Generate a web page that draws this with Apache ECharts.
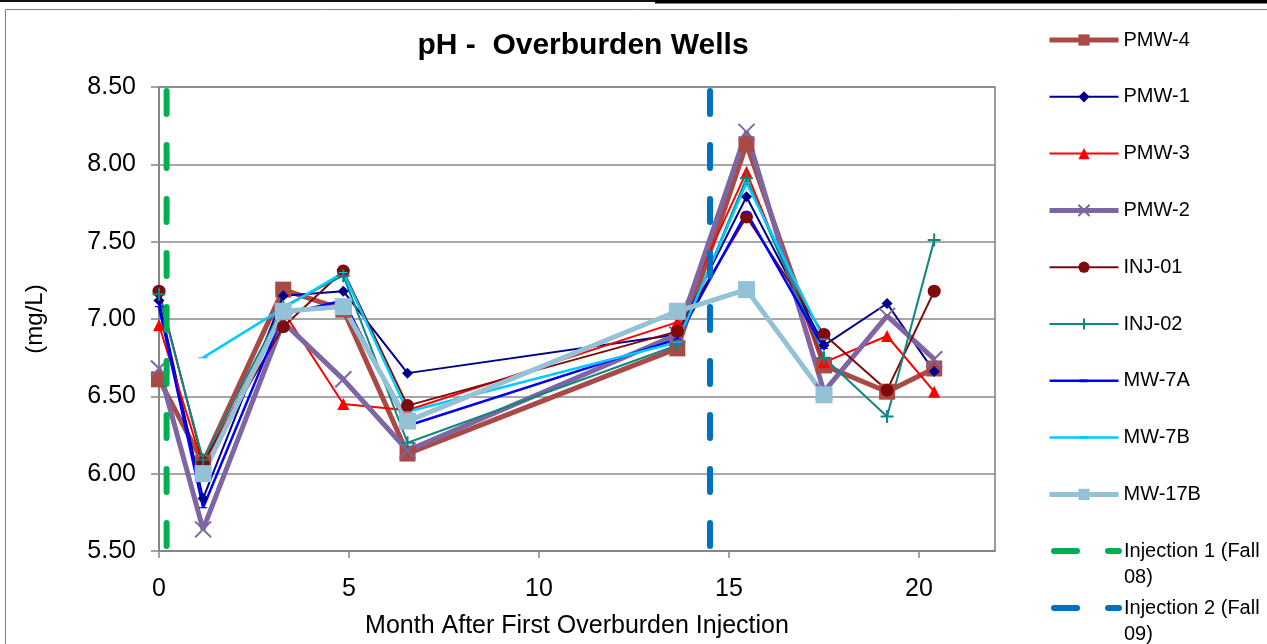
<!DOCTYPE html>
<html><head><meta charset="utf-8">
<script src="https://cdn.jsdelivr.net/npm/echarts@6/dist/echarts.min.js"></script>
<style>html,body{margin:0;padding:0;background:#fff}#c{width:1267px;height:644px}</style>
</head><body><div id="c"></div>
<script>
// ---- data ----
const months = [0, 1.16, 3.27, 4.85, 6.54, 13.64, 15.46, 17.5, 19.16, 20.4];
const pmw4  = [6.61, 6.07, 7.19, 7.06, 6.13, 6.81, 8.13, 6.70, 6.53, 6.68];
const pmw1  = [7.12, 5.84, 7.15, 7.18, 6.65, 6.90, 7.79, 6.83, 7.10, 6.66];
const pmw3  = [6.96, 6.05, 7.05, 6.45, 6.41, 6.98, 7.95, 6.72, 6.89, 6.53];
const pmw2  = [6.68, 5.64, 6.98, 6.61, 6.15, 6.90, 8.21, 6.53, 7.02, 6.74];
const inj01 = [7.18, 6.07, 6.95, 7.31, 6.44, 6.92, 7.66, 6.90, 6.54, 7.18];
const inj02 = [7.16, 6.09, 7.08, 7.28, 6.20, 6.83, 7.91, 6.75, 6.37, 7.51];
const mw7a  = [7.08, 5.78, 7.03, 7.12, 6.31, 6.87, 7.69, 6.81, null, null];
const mw7b  = [null, 6.75, 7.07, 7.30, 6.40, 6.85, 7.88, 6.87, null, null];
const mw17b = [null, 6.00, 7.05, 7.08, 6.34, 7.05, 7.19, 6.51, null, null];
const injection1Month = 0.2;
const injection2Month = 14.5;
const seriesNames = ['PMW-4','PMW-1','PMW-3','PMW-2','INJ-01','INJ-02','MW-7A','MW-7B','MW-17B'];
const injectionNames = ['Injection 1 (Fall 08)', 'Injection 2 (Fall 09)'];
const yMin = 5.5, yMax = 8.5, yStep = 0.5;
const xMin = 0, xMax = 22, xStep = 5;
const titleText = 'pH -  Overburden Wells';
const xName = 'Month After First Overburden Injection';
const yName = '(mg/L)';

// ---- styling ----
const FONT = '"Liberation Sans", Arial, sans-serif';
const X_SYM = 'path://M0,0L10,10M10,0L0,10';
const PLUS_SYM = 'path://M5,0L5,10M0,5L10,5';
const DASH_SYM = 'path://M0,0H8V3H0Z';
const DASH_LEGEND_ICON = 'path://M0,0L0,0M69,14L69,14M0,5.75H69V8.25H0ZM30,5.5H38V8.5H30Z';

function pts(vals) {
  return months.map((m, i) => [m, vals[i]]).filter(d => d[1] !== null);
}
function ser(name, vals, color, width, symbol, size, extra) {
  return Object.assign({
    name: name, type: 'line', data: pts(vals),
    lineStyle: { color: color, width: width },
    itemStyle: { color: color },
    symbol: symbol, symbolSize: size, showSymbol: true,
    symbolKeepAspect: true,
    emphasis: { disabled: true }, animation: false
  }, extra || {});
}
function injSer(name, month, color) {
  return {
    name: name, type: 'line', data: [[month, yMax], [month, yMin]],
    symbol: 'none', showSymbol: false,
    lineStyle: { color: color, width: 6, type: [23, 31], dashOffset: -4, cap: 'round' },
    itemStyle: { color: color },
    emphasis: { disabled: true }, animation: false, z: 5
  };
}

const series = [
  ser('PMW-4', pmw4, '#AA4A46', 5, 'rect', 16),
  ser('PMW-1', pmw1, '#00008B', 2, 'diamond', 11),
  ser('PMW-3', pmw3, '#FF0000', 2, 'triangle', 12),
  ser('PMW-2', pmw2, '#7D66A2', 5, X_SYM, 16, { itemStyle: { color: '#7D66A2', borderColor: '#7D66A2', borderWidth: 2 } }),
  ser('INJ-01', inj01, '#7E0A0A', 2, 'circle', 13),
  ser('INJ-02', inj02, '#118580', 2, PLUS_SYM, 13, { itemStyle: { color: '#118580', borderColor: '#118580', borderWidth: 2 } }),
  ser('MW-7A', mw7a, '#0000FF', 2.5, DASH_SYM, [8, 3]),
  ser('MW-7B', mw7b, '#00CCFF', 2.5, DASH_SYM, [9, 3]),
  ser('MW-17B', mw17b, '#93C1D5', 5, 'rect', 17),
  injSer(injectionNames[0], injection1Month, '#00B050'),
  injSer(injectionNames[1], injection2Month, '#0070C0')
];

const legendText = { fontFamily: FONT, fontSize: 20, color: '#000' };
const injLegend = (name, top) => ({
  data: [{ name: name, itemStyle: { color: 'rgba(0,0,0,0)', borderWidth: 0 } }],
  orient: 'vertical', left: 1047, top: top, padding: 0,
  itemWidth: 69, itemHeight: 14,
  selectedMode: false,
  lineStyle: { width: 'inherit' },
  formatter: n => '\n' + n.replace('(Fall ', '(Fall\n'),
  textStyle: Object.assign({ lineHeight: 26 }, legendText)
});
const mainLegendData = seriesNames.map(n =>
  (n === 'MW-7A' || n === 'MW-7B') ? { name: n, icon: DASH_LEGEND_ICON } : n);

const chart = echarts.init(document.getElementById('c'), null, { renderer: 'canvas' });
chart.setOption({
  backgroundColor: '#fff',
  animation: false,
  title: {
    text: titleText, left: 583, top: 31, padding: 0, textAlign: 'center',
    textStyle: { fontFamily: FONT, fontSize: 30, fontWeight: 'bold', color: '#000' }
  },
  graphic: [
    { type: 'rect', shape: { x: 5.5, y: 9.5, width: 1400, height: 800 }, style: { fill: 'none', stroke: '#7f7f7f', lineWidth: 1 }, silent: true },
    { type: 'rect', shape: { x: 0, y: 0, width: 655, height: 2 }, style: { fill: '#111' }, silent: true },
    { type: 'rect', shape: { x: 655, y: 0, width: 612, height: 3.5 }, style: { fill: '#000' }, silent: true }
  ],
  legend: [
    {
      data: mainLegendData, orient: 'vertical', left: 1047, top: 30, padding: 0,
      itemWidth: 69, itemHeight: 14, itemGap: 36.8, selectedMode: false,
      lineStyle: { width: 'inherit' },
      textStyle: legendText
    },
    injLegend(injectionNames[0], 512),
    injLegend(injectionNames[1], 569)
  ],
  grid: {
    left: 159, top: 87, right: 1267 - 995, bottom: 644 - 553,
    show: true, borderColor: '#7a7a7a', borderWidth: 1.5, containLabel: false
  },
  xAxis: {
    type: 'value', min: xMin, max: xMax, interval: xStep,
    name: xName, nameLocation: 'middle', nameGap: 63,
    nameTextStyle: { fontFamily: FONT, fontSize: 25, color: '#000' },
    axisLine: { show: true, onZero: false, lineStyle: { color: '#868686', width: 2 } },
    axisTick: { show: true, inside: false, length: 7, lineStyle: { color: '#868686', width: 1.5 } },
    axisLabel: { fontFamily: FONT, fontSize: 25, color: '#000', margin: 26, showMaxLabel: false },
    splitLine: { show: false }
  },
  yAxis: {
    type: 'value', min: yMin, max: yMax, interval: yStep,
    name: yName, nameLocation: 'middle', nameGap: 112, nameRotate: 90,
    nameTextStyle: { fontFamily: FONT, fontSize: 24, color: '#000' },
    axisLine: { show: true, lineStyle: { color: '#868686', width: 2 } },
    axisTick: { show: true, inside: false, length: 8, lineStyle: { color: '#868686', width: 1.5 } },
    axisLabel: { fontFamily: FONT, fontSize: 25, color: '#000', margin: 23, formatter: v => v.toFixed(2) },
    splitLine: { show: true, lineStyle: { color: '#8a8a8a', width: 1.5 } }
  },
  series: series
});
</script>
</body></html>
